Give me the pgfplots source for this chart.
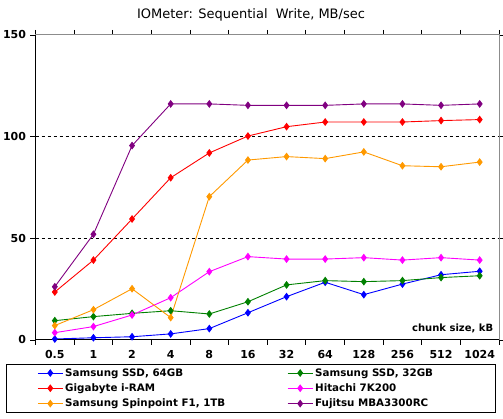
\documentclass[border=0pt]{standalone}
\usepackage{pgfplots}
\pgfplotsset{compat=1.18}
\usepackage{fontspec}
\setmainfont{DejaVu Sans}
\definecolor{cBlue}{RGB}{0,0,255}
\definecolor{cGreen}{RGB}{0,128,0}
\definecolor{cRed}{RGB}{255,0,0}
\definecolor{cMag}{RGB}{255,0,255}
\definecolor{cOrange}{RGB}{255,153,0}
\definecolor{cPurple}{RGB}{128,0,128}
\begin{document}
\begin{tikzpicture}
\useasboundingbox (0pt,0pt) rectangle (503pt,419pt);
\node[font=\fontsize{13}{15}\selectfont] at (251pt,404pt) {IOMeter: Sequential\ \ Write, MB/sec};
\begin{axis}[
  at={(35.5pt,79pt)}, anchor=south west,
  scale only axis, width=463.5pt, height=305pt,
  xmin=-0.5, xmax=11.5, ymin=0, ymax=150,
  xtick={0,...,11},
  xticklabels={0.5,1,2,4,8,16,32,64,128,256,512,1024},
  minor xtick={-0.5,0.5,...,11.5},
  major x tick style={draw=none},
  ytick={0,50,100,150},
  extra y ticks={50,100}, extra y tick labels={},
  extra y tick style={grid=major, major tick length=0pt},
  tick align=outside,
  major tick length=5pt, minor tick length=5pt,
  tick style={black, line width=0.8pt},
  grid style={black, dashed, line width=0.8pt},
  axis line style={draw=gray!90, line width=1pt},
  tick label style={font=\fontsize{11}{13}\selectfont\bfseries},
  /pgf/number format/assume math mode=true,
  yticklabel style={xshift=-1pt},
  xticklabel style={yshift=-2pt},
  every axis plot/.append style={line width=0.9pt, mark=diamond*, mark size=3.2pt},
  legend columns=2,
  legend style={at={(0.4644,-0.0787)}, anchor=north, draw=black, line width=0.9pt,
    font=\fontsize{10.3}{12}\selectfont\bfseries, inner xsep=31pt, inner ysep=2pt,
    row sep=2pt},
  legend cell align=left,
  legend image code/.code={\draw[mark repeat=2,mark phase=2,#1] plot coordinates {(0pt,0pt)(12.5pt,0pt)(25pt,0pt)};},
  clip=false,
]
\addplot[cBlue] coordinates {(0,0.5)(1,1.1)(2,1.6)(3,3.0)(4,5.6)(5,13.4)(6,21.3)(7,28.4)(8,22.3)(9,27.5)(10,32.1)(11,33.8)};
\addlegendentry{\makebox[220pt][l]{Samsung SSD, 64GB}}
\addplot[cGreen] coordinates {(0,9.5)(1,11.5)(2,13.1)(3,14.4)(4,12.8)(5,18.8)(6,27.1)(7,29.2)(8,28.7)(9,29.2)(10,30.7)(11,31.6)};
\addlegendentry{\makebox[147pt][l]{Samsung SSD, 32GB}}
\addplot[cRed] coordinates {(0,23.6)(1,39.3)(2,59.5)(3,79.8)(4,92.0)(5,100.3)(6,104.9)(7,107.2)(8,107.2)(9,107.2)(10,107.9)(11,108.4)};
\addlegendentry{Gigabyte i-RAM}
\addplot[cMag] coordinates {(0,3.6)(1,6.6)(2,12.3)(3,20.8)(4,33.6)(5,41.0)(6,39.8)(7,39.8)(8,40.5)(9,39.3)(10,40.5)(11,39.3)};
\addlegendentry{Hitachi 7K200}
\addplot[cOrange] coordinates {(0,7.1)(1,14.9)(2,25.2)(3,11.0)(4,70.5)(5,88.5)(6,90.2)(7,89.2)(8,92.5)(9,85.7)(10,85.2)(11,87.5)};
\addlegendentry{Samsung Spinpoint F1, 1TB}
\addplot[cPurple] coordinates {(0,26.2)(1,52.0)(2,95.6)(3,116.1)(4,116.1)(5,115.4)(6,115.4)(7,115.4)(8,116.1)(9,116.1)(10,115.4)(11,116.1)};
\addlegendentry{Fujitsu MBA3300RC}
\draw[black, line width=1pt] (rel axis cs:0,1) -- (rel axis cs:0,0) -- (rel axis cs:1,0);
\node[anchor=south east, font=\fontsize{10}{12}\selectfont\bfseries] at (rel axis cs:0.995,0.012) {chunk size, kB};
\end{axis}
\end{tikzpicture}
\end{document}
